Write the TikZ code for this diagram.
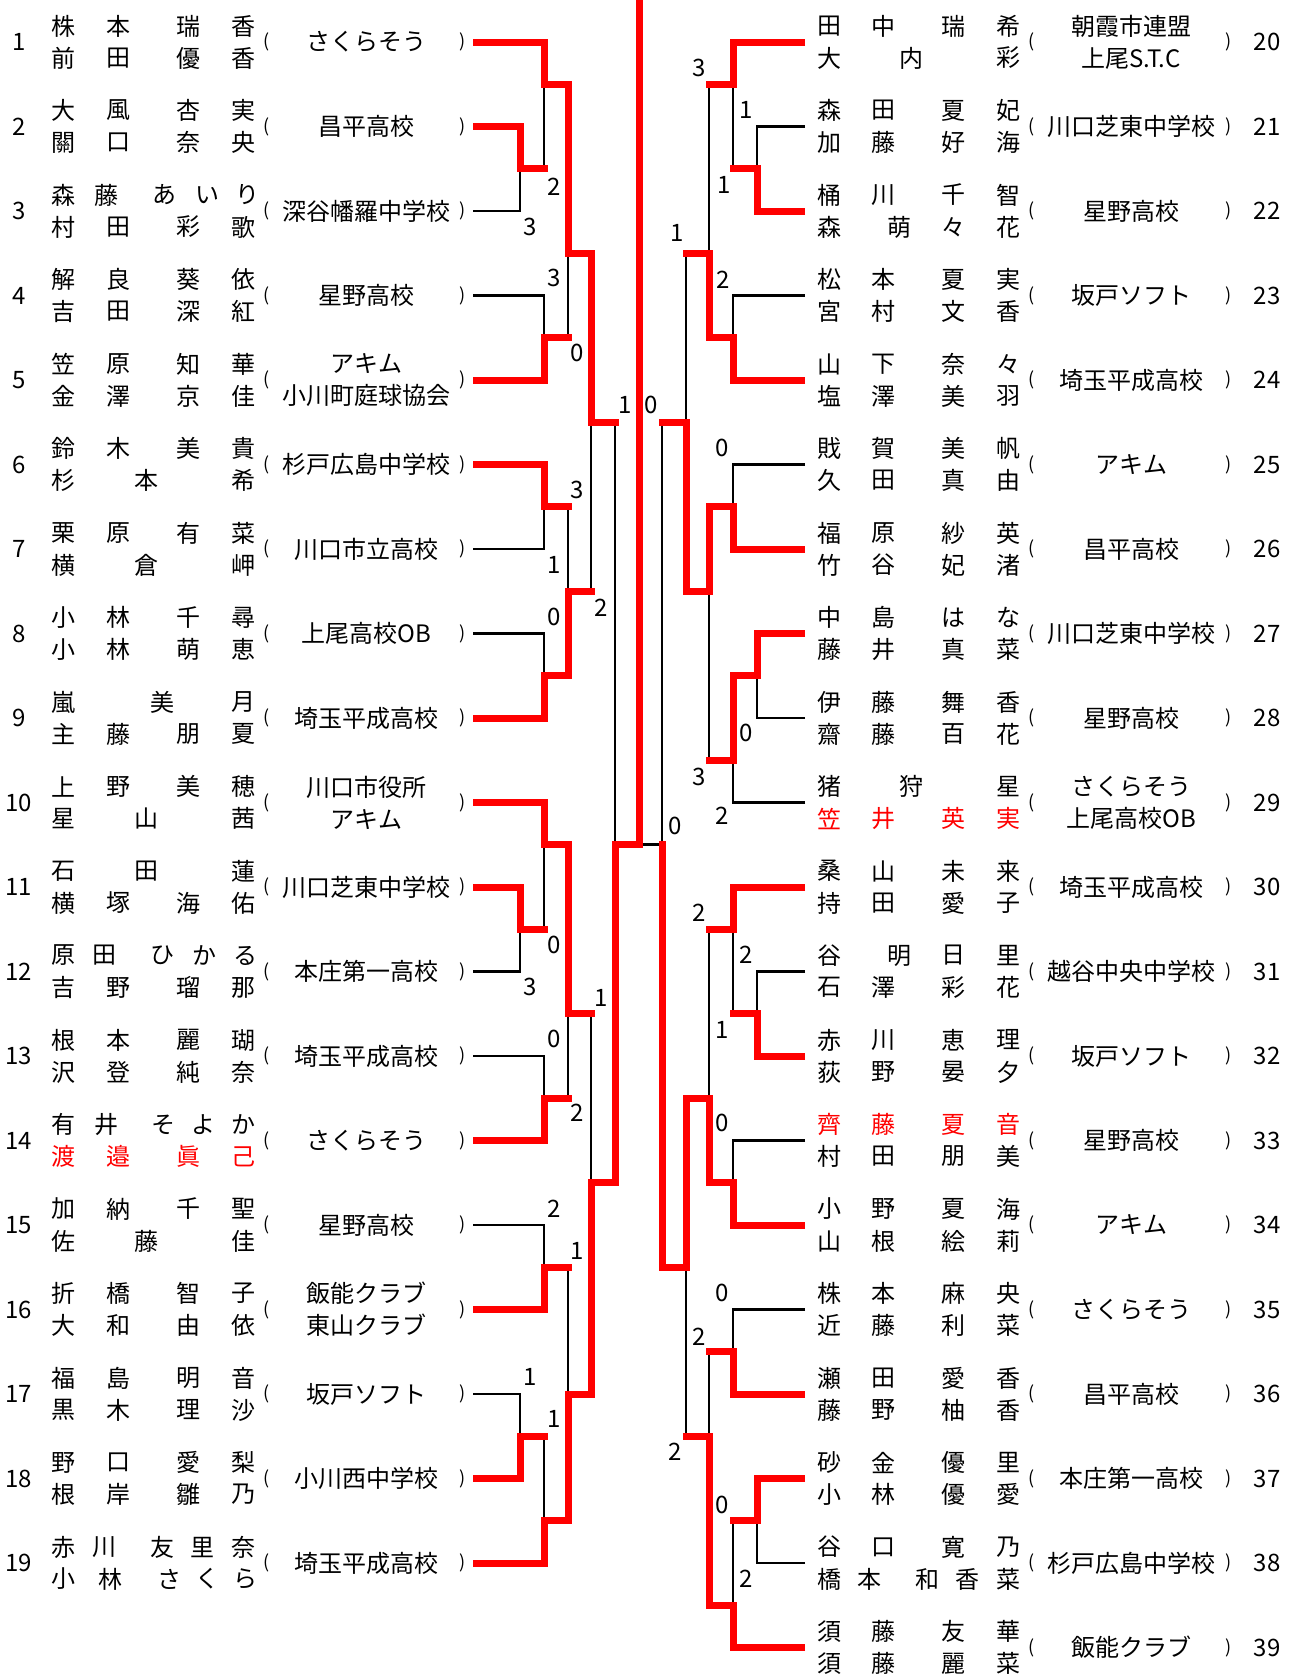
\documentclass[tikz,border=0pt]{standalone}
\usepackage{fontspec}
\newfontfamily\jpfont{Noto Sans CJK JP}
\newcommand\jpf{\jpfont\fontsize{12}{16}\selectfont}
\newcommand\parf{\jpfont\fontsize{9}{10}\selectfont}
\tikzset{
 nm/.style={font=\jpf, inner sep=0pt},
 num/.style={font=\jpf, inner sep=0pt},
 sc/.style={font=\jpf, inner sep=0pt},
 team/.style={font=\jpf, inner sep=0pt, align=center},
 par/.style={font=\parf, inner sep=0pt},
 rd/.style={text=red},
 redline/.style={draw=red, line width=3.5pt, line cap=rect},
 redent/.style={draw=red, line width=3.5pt},
 blk/.style={draw=black, line width=1.35pt},
}
\newcommand\LE[6]{%
 \pgfmathsetmacro\yy{42+(#1-1)*84.5}%
 \node[num] (ln#1) at (19,\yy) {#1};
 \node[par] (lo#1) at (267,\yy) {(};
 \node[team] (lt#1) at (366,\yy) {#2};
 \node[par] (lc#1) at (463,\yy) {)};
 \foreach \xx/\cc [count=\ii] in {#3} {\node[nm,#5] (la#1-\ii) at (\xx,\yy-16) {\cc};}
 \foreach \xx/\cc [count=\ii] in {#4} {\node[nm,#6] (lb#1-\ii) at (\xx,\yy+16) {\cc};}
 \coordinate (e#1) at (473,\yy);
}
\newcommand\RE[6]{%
 \pgfmathsetmacro\yy{42+(#1-20)*84.5}%
 \node[num] (rn#1) at (1267,\yy) {#1};
 \node[par] (ro#1) at (1032,\yy) {(};
 \node[team] (rt#1) at (1131,\yy) {#2};
 \node[par] (rc#1) at (1229,\yy) {)};
 \foreach \xx/\cc [count=\ii] in {#3} {\node[nm,#5] (ra#1-\ii) at (\xx,\yy-16) {\cc};}
 \foreach \xx/\cc [count=\ii] in {#4} {\node[nm,#6] (rb#1-\ii) at (\xx,\yy+16) {\cc};}
 \coordinate (e#1) at (805,\yy);
}
\newcommand\be[2]{\draw[blk] (#1) -| (#2);}
\newcommand\re[2]{\draw[redent] (#1) -| (#2);}
\newcommand\bsub[2]{\draw[blk] (#1 -| #2) -- (#2);}
\newcommand\rh[2]{\draw[redline] (#1) -- (#1 -| #2);}
\newcommand\rv[2]{\draw[redline] (#1 -| #2) -- (#2);}
\begin{document}
\begin{tikzpicture}[x=0.5pt,y=-0.5pt]
\useasboundingbox (0,0) rectangle (1295,1677);
% ---------- left entries ----------
\LE{1}{さくらそう}{63/株,118/本,188/瑞,243/香}{63/前,118/田,188/優,243/香}{}{}
\LE{2}{昌平高校}{63/大,118/風,188/杏,243/実}{63/關,118/口,188/奈,243/央}{}{}
\LE{3}{深谷幡羅中学校}{63/森,106/藤,164/あ,207/い,247/り}{63/村,118/田,188/彩,243/歌}{}{}
\LE{4}{星野高校}{63/解,118/良,188/葵,243/依}{63/吉,118/田,188/深,243/紅}{}{}
\LE{5}{アキム\\小川町庭球協会}{63/笠,118/原,188/知,243/華}{63/金,118/澤,188/京,243/佳}{}{}
\LE{6}{杉戸広島中学校}{63/鈴,118/木,188/美,243/貴}{63/杉,146/本,243/希}{}{}
\LE{7}{川口市立高校}{63/栗,118/原,188/有,243/菜}{63/横,146/倉,243/岬}{}{}
\LE{8}{上尾高校OB}{63/小,118/林,188/千,243/尋}{63/小,118/林,188/萌,243/恵}{}{}
\LE{9}{埼玉平成高校}{63/嵐,162/美,243/月}{63/主,118/藤,188/朋,243/夏}{}{}
\LE{10}{川口市役所\\アキム}{63/上,118/野,188/美,243/穂}{63/星,146/山,243/茜}{}{}
\LE{11}{川口芝東中学校}{63/石,146/田,243/蓮}{63/横,118/塚,188/海,243/佑}{}{}
\LE{12}{本庄第一高校}{63/原,104/田,162/ひ,204/か,245/る}{63/吉,118/野,188/瑠,243/那}{}{}
\LE{13}{埼玉平成高校}{63/根,118/本,188/麗,243/瑚}{63/沢,118/登,188/純,243/奈}{}{}
\LE{14}{さくらそう}{63/有,106/井,163/そ,203/よ,243/か}{63/渡,118/邉,188/眞,243/己}{}{rd}
\LE{15}{星野高校}{63/加,118/納,188/千,243/聖}{63/佐,146/藤,243/佳}{}{}
\LE{16}{飯能クラブ\\東山クラブ}{63/折,118/橋,188/智,243/子}{63/大,118/和,188/由,243/依}{}{}
\LE{17}{坂戸ソフト}{63/福,118/島,188/明,243/音}{63/黒,118/木,188/理,243/沙}{}{}
\LE{18}{小川西中学校}{63/野,118/口,188/愛,243/梨}{63/根,118/岸,188/雛,243/乃}{}{}
\LE{19}{埼玉平成高校}{63/赤,104/川,162/友,202/里,243/奈}{63/小,110/林,169/さ,207/く,245/ら}{}{}
% ---------- right entries ----------
\RE{20}{朝霞市連盟\\上尾S.T.C}{829/田,883/中,953/瑞,1008/希}{829/大,911/内,1008/彩}{}{}
\RE{21}{川口芝東中学校}{829/森,883/田,953/夏,1008/妃}{829/加,883/藤,953/好,1008/海}{}{}
\RE{22}{星野高校}{829/桶,883/川,953/千,1008/智}{829/森,899/萌,953/々,1008/花}{}{}
\RE{23}{坂戸ソフト}{829/松,883/本,953/夏,1008/実}{829/宮,883/村,953/文,1008/香}{}{}
\RE{24}{埼玉平成高校}{829/山,883/下,953/奈,1008/々}{829/塩,883/澤,953/美,1008/羽}{}{}
\RE{25}{アキム}{829/戝,883/賀,953/美,1008/帆}{829/久,883/田,953/真,1008/由}{}{}
\RE{26}{昌平高校}{829/福,883/原,953/紗,1008/英}{829/竹,883/谷,953/妃,1008/渚}{}{}
\RE{27}{川口芝東中学校}{829/中,883/島,953/は,1008/な}{829/藤,883/井,953/真,1008/菜}{}{}
\RE{28}{星野高校}{829/伊,883/藤,953/舞,1008/香}{829/齋,883/藤,953/百,1008/花}{}{}
\RE{29}{さくらそう\\上尾高校OB}{829/猪,911/狩,1008/星}{829/笠,883/井,953/英,1008/実}{}{rd}
\RE{30}{埼玉平成高校}{829/桑,883/山,953/未,1008/来}{829/持,883/田,953/愛,1008/子}{}{}
\RE{31}{越谷中央中学校}{829/谷,899/明,953/日,1008/里}{829/石,883/澤,953/彩,1008/花}{}{}
\RE{32}{坂戸ソフト}{829/赤,883/川,953/恵,1008/理}{829/荻,883/野,953/晏,1008/夕}{}{}
\RE{33}{星野高校}{829/齊,883/藤,953/夏,1008/音}{829/村,883/田,953/朋,1008/美}{rd}{}
\RE{34}{アキム}{829/小,883/野,953/夏,1008/海}{829/山,883/根,953/絵,1008/莉}{}{}
\RE{35}{さくらそう}{829/株,883/本,953/麻,1008/央}{829/近,883/藤,953/利,1008/菜}{}{}
\RE{36}{昌平高校}{829/瀬,883/田,953/愛,1008/香}{829/藤,883/野,953/柚,1008/香}{}{}
\RE{37}{本庄第一高校}{829/砂,883/金,953/優,1008/里}{829/小,883/林,953/優,1008/愛}{}{}
\RE{38}{杉戸広島中学校}{829/谷,883/口,953/寛,1008/乃}{829/橋,869/本,927/和,967/香,1008/菜}{}{}
\RE{39}{飯能クラブ}{829/須,883/藤,953/友,1008/華}{829/須,883/藤,953/麗,1008/菜}{}{}
% ---------- match points ----------
\coordinate (mA) at (520,168.75);
\coordinate (mB) at (544,84.25);
\coordinate (mC) at (544,337.75);
\coordinate (mD) at (568,253.25);
\coordinate (mE) at (544,506.75);
\coordinate (mF) at (544,675.75);
\coordinate (mG) at (568,591.25);
\coordinate (mH) at (591,422.25);
\coordinate (mI) at (520,929.25);
\coordinate (mJ) at (544,844.75);
\coordinate (mK) at (544,1098.25);
\coordinate (mL) at (568,1013.75);
\coordinate (mM) at (544,1267.25);
\coordinate (mN) at (520,1436.25);
\coordinate (mO) at (544,1520.75);
\coordinate (mP) at (568,1394);
\coordinate (mQ) at (591,1182.75);
\coordinate (mR) at (615,844.75);
\coordinate (F) at (639,844.75);
\coordinate (top) at (639,0);
\coordinate (nA) at (757,168.75);
\coordinate (nB) at (733,84.25);
\coordinate (nC) at (733,337.75);
\coordinate (nD) at (709,253.25);
\coordinate (nE) at (733,506.75);
\coordinate (nF) at (757,675.75);
\coordinate (nG) at (733,760.25);
\coordinate (nH) at (709,591.25);
\coordinate (nI) at (686,422.25);
\coordinate (nJ) at (757,1013.75);
\coordinate (nK) at (733,929.25);
\coordinate (nL) at (733,1182.75);
\coordinate (nM) at (709,1098.25);
\coordinate (nN) at (733,1351.75);
\coordinate (nO) at (757,1520.75);
\coordinate (nP) at (733,1605.25);
\coordinate (nQ) at (709,1436.25);
\coordinate (nR) at (686,1267.25);
\coordinate (nS) at (662,844.75);
% ---------- black (losing) lines ----------
\be{e3}{mA} \be{e4}{mC} \be{e7}{mE} \be{e8}{mF}
\be{e12}{mI} \be{e13}{mK} \be{e15}{mM} \be{e17}{mN}
\bsub{mA}{mB} \bsub{mC}{mD} \bsub{mE}{mG} \bsub{mG}{mH} \bsub{mI}{mJ}
\bsub{mK}{mL} \bsub{mM}{mP} \bsub{mN}{mO} \bsub{mL}{mQ} \bsub{mH}{mR}
\be{e21}{nA} \be{e23}{nC} \be{e25}{nE} \be{e28}{nF} \be{e29}{nG}
\be{e31}{nJ} \be{e33}{nL} \be{e35}{nN} \be{e38}{nO}
\bsub{nA}{nB} \bsub{nB}{nD} \bsub{nD}{nI} \bsub{nG}{nH} \bsub{nI}{nS}
\bsub{nJ}{nK} \bsub{nK}{nM} \bsub{nN}{nQ} \bsub{nO}{nP} \bsub{nQ}{nR}
\draw[blk] (nS) -- (F);
% ---------- red (winning) lines ----------
\re{e1}{mB} \re{e2}{mA} \re{e5}{mC} \re{e6}{mE} \re{e9}{mF} \re{e10}{mJ}
\re{e11}{mI} \re{e14}{mK} \re{e16}{mM} \re{e18}{mN} \re{e19}{mO}
\rh{mA}{mB} \rh{mB}{mD} \rh{mC}{mD} \rh{mD}{mH} \rh{mE}{mG} \rh{mF}{mG}
\rh{mG}{mH} \rh{mH}{mR} \rh{mI}{mJ} \rh{mJ}{mL} \rh{mK}{mL} \rh{mL}{mQ}
\rh{mM}{mP} \rh{mN}{mO} \rh{mO}{mP} \rh{mP}{mQ} \rh{mQ}{mR} \rh{mR}{F}
\rv{mB}{mD} \rv{mD}{mH} \rv{mF}{mG} \rv{mJ}{mL} \rv{mO}{mP} \rv{mP}{mQ} \rv{mQ}{mR}
\draw[redline] (F) -- (top);
\re{e20}{nB} \re{e22}{nA} \re{e24}{nC} \re{e26}{nE} \re{e27}{nF} \re{e30}{nK}
\re{e32}{nJ} \re{e34}{nL} \re{e36}{nN} \re{e37}{nO} \re{e39}{nP}
\rh{nA}{nB} \rh{nB}{nD} \rh{nC}{nD} \rh{nD}{nI} \rh{nE}{nH} \rh{nF}{nG}
\rh{nG}{nH} \rh{nH}{nI} \rh{nI}{nS} \rh{nJ}{nK} \rh{nK}{nM} \rh{nL}{nM}
\rh{nM}{nR} \rh{nN}{nQ} \rh{nO}{nP} \rh{nP}{nQ} \rh{nQ}{nR} \rh{nR}{nS}
\rv{nC}{nD} \rv{nF}{nG} \rv{nE}{nH} \rv{nH}{nI} \rv{nL}{nM} \rv{nP}{nQ} \rv{nM}{nR} \rv{nR}{nS}
% ---------- scores ----------
\node[sc] (s1) at (554,187) {2};
\node[sc] (s2) at (530,227) {3};
\node[sc] (s3) at (554,278) {3};
\node[sc] (s4) at (577,353) {0};
\node[sc] (s5) at (625,405) {1};
\node[sc] (s6) at (651,405) {0};
\node[sc] (s7) at (577,490) {3};
\node[sc] (s8) at (554,565) {1};
\node[sc] (s9) at (554,617) {0};
\node[sc] (s10) at (601,608) {2};
\node[sc] (s11) at (554,945) {0};
\node[sc] (s12) at (530,987) {3};
\node[sc] (s13) at (601,998) {1};
\node[sc] (s14) at (554,1039) {0};
\node[sc] (s15) at (577,1113) {2};
\node[sc] (s16) at (554,1209) {2};
\node[sc] (s17) at (577,1251) {1};
\node[sc] (s18) at (530,1377) {1};
\node[sc] (s19) at (554,1419) {1};
\node[sc] (t1) at (699,68) {3};
\node[sc] (t2) at (746,110) {1};
\node[sc] (t3) at (724,185) {1};
\node[sc] (t4) at (677,233) {1};
\node[sc] (t5) at (723,280) {2};
\node[sc] (t6) at (722,448) {0};
\node[sc] (t7) at (746,733) {0};
\node[sc] (t8) at (699,777) {3};
\node[sc] (t9) at (722,816) {2};
\node[sc] (t10) at (675,826) {0};
\node[sc] (t11) at (699,913) {2};
\node[sc] (t12) at (746,955) {2};
\node[sc] (t13) at (722,1030) {1};
\node[sc] (t14) at (722,1123) {0};
\node[sc] (t15) at (722,1293) {0};
\node[sc] (t16) at (699,1337) {2};
\node[sc] (t17) at (675,1452) {2};
\node[sc] (t18) at (722,1505) {0};
\node[sc] (t19) at (746,1579) {2};
\end{tikzpicture}
\end{document}
